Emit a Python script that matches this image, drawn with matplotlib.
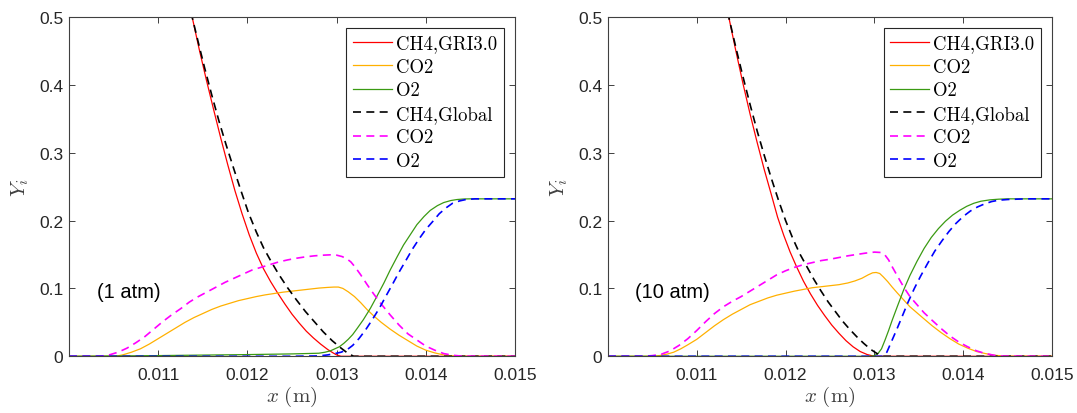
"""Species mass fractions across the flame, GRI3.0 vs global mechanism."""

import matplotlib

matplotlib.use("Agg")
import matplotlib.pyplot as plt

# ---- axes ticks -------------------------------------------------------------
x_ticks = [0.011, 0.012, 0.013, 0.014, 0.015]
x_tick_labels = ["0.011", "0.012", "0.013", "0.014", "0.015"]
y_ticks = [0.0, 0.1, 0.2, 0.3, 0.4, 0.5]
y_tick_labels = ["0", "0.1", "0.2", "0.3", "0.4", "0.5"]

legend_labels = ["CH4,GRI3.0", "CO2", "O2", "CH4,Global", "CO2", "O2"]
pressure_notes = ["(1 atm)", "(10 atm)"]

# ---- 1 atm ------------------------------------------------------------------
x_ch4_gri_1 = [0.01128, 0.01138, 0.01146, 0.01154, 0.01162, 0.01170, 0.01178, 0.01186,
               0.01194, 0.01202, 0.01210, 0.01218, 0.01226, 0.01234, 0.01242, 0.01250,
               0.01258, 0.01266, 0.01274, 0.01282, 0.01290, 0.01296, 0.01300, 0.01305,
               0.01500]
y_ch4_gri_1 = [0.560, 0.500, 0.452, 0.407, 0.364, 0.322, 0.282, 0.244,
               0.210, 0.179, 0.152, 0.129, 0.110, 0.093, 0.077, 0.062,
               0.049, 0.037, 0.027, 0.018, 0.010, 0.005, 0.002, 0.0,
               0.0]

x_co2_gri_1 = [0.01000, 0.01052, 0.01060, 0.01070, 0.01080, 0.01090, 0.01100, 0.01110,
               0.01120, 0.01130, 0.01140, 0.01150, 0.01160, 0.01170, 0.01180, 0.01190,
               0.01200, 0.01210, 0.01220, 0.01230, 0.01240, 0.01250, 0.01260, 0.01270,
               0.01280, 0.01290, 0.01297, 0.01302, 0.01307, 0.01313, 0.01320, 0.01327,
               0.01334, 0.01342, 0.01350, 0.01360, 0.01370, 0.01380, 0.01390, 0.01400,
               0.01410, 0.01420, 0.01430, 0.01440, 0.01500]
y_co2_gri_1 = [0.0, 0.0, 0.002, 0.006, 0.011, 0.018, 0.026, 0.034,
               0.042, 0.050, 0.057, 0.063, 0.069, 0.074, 0.078, 0.082,
               0.085, 0.088, 0.0905, 0.0925, 0.0945, 0.096, 0.0975, 0.099,
               0.1005, 0.1015, 0.102, 0.102, 0.100, 0.095, 0.088, 0.079,
               0.069, 0.059, 0.050, 0.040, 0.031, 0.023, 0.015, 0.009,
               0.005, 0.002, 0.0005, 0.0, 0.0]

x_o2_gri_1 = [0.01000, 0.01100, 0.01200, 0.01250, 0.01280, 0.01287, 0.01293, 0.01298,
              0.01303, 0.01308, 0.01313, 0.01318, 0.01323, 0.01330, 0.01338, 0.01345,
              0.01353, 0.01360, 0.01368, 0.01375, 0.01383, 0.01390, 0.01398, 0.01405,
              0.01413, 0.01420, 0.01428, 0.01435, 0.01443, 0.01450, 0.01500]
y_o2_gri_1 = [0.0, 0.001, 0.0025, 0.0035, 0.0045, 0.006, 0.008, 0.011,
              0.014, 0.019, 0.025, 0.032, 0.041, 0.054, 0.071, 0.088,
              0.108, 0.127, 0.147, 0.164, 0.180, 0.194, 0.206, 0.215,
              0.222, 0.2265, 0.2295, 0.231, 0.2318, 0.232, 0.232]

x_ch4_glob_1 = [0.01128, 0.01138, 0.01145, 0.01152, 0.01160, 0.01168, 0.01176, 0.01185,
                0.01193, 0.01201, 0.01210, 0.01218, 0.01226, 0.01235, 0.01245, 0.01255,
                0.01265, 0.01275, 0.01285, 0.01295, 0.01305, 0.01312, 0.01319, 0.01500]
y_ch4_glob_1 = [0.560, 0.500, 0.462, 0.425, 0.385, 0.347, 0.312, 0.275,
                0.243, 0.212, 0.183, 0.160, 0.141, 0.121, 0.101, 0.083,
                0.066, 0.051, 0.036, 0.023, 0.012, 0.005, 0.000, 0.000]

x_co2_glob_1 = [0.01000, 0.01035, 0.01045, 0.01055, 0.01065, 0.01075, 0.01085, 0.01095,
                0.01105, 0.01115, 0.01125, 0.01135, 0.01145, 0.01155, 0.01165, 0.01175,
                0.01185, 0.01195, 0.01205, 0.01215, 0.01225, 0.01235, 0.01245, 0.01255,
                0.01265, 0.01275, 0.01285, 0.01293, 0.01300, 0.01306, 0.01311, 0.01316,
                0.01321, 0.01327, 0.01334, 0.01342, 0.01350, 0.01360, 0.01370, 0.01380,
                0.01390, 0.01400, 0.01410, 0.01420, 0.01430, 0.01440, 0.01500]
y_co2_glob_1 = [0.0, 0.0, 0.002, 0.006, 0.012, 0.020, 0.029, 0.040,
                0.051, 0.061, 0.070, 0.080, 0.088, 0.095, 0.102, 0.109,
                0.115, 0.121, 0.127, 0.131, 0.135, 0.139, 0.142, 0.1445,
                0.1465, 0.148, 0.149, 0.1495, 0.149, 0.147, 0.144, 0.139,
                0.131, 0.120, 0.106, 0.091, 0.077, 0.061, 0.046, 0.033,
                0.024, 0.015, 0.009, 0.004, 0.0015, 0.0003, 0.0]

x_o2_glob_1 = [0.01000, 0.01250, 0.01280, 0.01290, 0.01298, 0.01305, 0.01312, 0.01318,
               0.01325, 0.01332, 0.01340, 0.01348, 0.01355, 0.01363, 0.01370, 0.01378,
               0.01385, 0.01393, 0.01400, 0.01408, 0.01415, 0.01423, 0.01430, 0.01438,
               0.01445, 0.01455, 0.01500]
y_o2_glob_1 = [0.0, 0.0, 0.0005, 0.002, 0.004, 0.006, 0.010, 0.016,
               0.026, 0.038, 0.054, 0.071, 0.088, 0.107, 0.124, 0.142,
               0.158, 0.174, 0.187, 0.199, 0.210, 0.219, 0.2255, 0.229,
               0.231, 0.232, 0.232]

# ---- 10 atm -----------------------------------------------------------------
x_ch4_gri_10 = [0.01126, 0.01136, 0.01144, 0.01152, 0.01160, 0.01168, 0.01176, 0.01184,
                0.01191, 0.01198, 0.01205, 0.01212, 0.01220, 0.01228, 0.01236, 0.01244,
                0.01252, 0.01260, 0.01268, 0.01276, 0.01284, 0.01292, 0.01300, 0.01500]
y_ch4_gri_10 = [0.560, 0.500, 0.450, 0.402, 0.357, 0.315, 0.275, 0.238,
                0.205, 0.178, 0.154, 0.133, 0.111, 0.092, 0.075, 0.060,
                0.046, 0.034, 0.023, 0.014, 0.007, 0.0025, 0.0, 0.0]

x_co2_gri_10 = [0.01000, 0.01050, 0.01058, 0.01066, 0.01074, 0.01082, 0.01090, 0.01100,
                0.01110, 0.01120, 0.01130, 0.01140, 0.01150, 0.01160, 0.01170, 0.01180,
                0.01190, 0.01200, 0.01210, 0.01220, 0.01230, 0.01240, 0.01250, 0.01260,
                0.01270, 0.01278, 0.01286, 0.01293, 0.01298, 0.01302, 0.01306, 0.01310,
                0.01315, 0.01320, 0.01326, 0.01333, 0.01340, 0.01348, 0.01356, 0.01365,
                0.01375, 0.01385, 0.01395, 0.01405, 0.01415, 0.01425, 0.01435, 0.01445,
                0.01455, 0.01500]
y_co2_gri_10 = [0.0, 0.0, 0.001, 0.003, 0.006, 0.011, 0.017, 0.025,
                0.035, 0.045, 0.054, 0.062, 0.069, 0.076, 0.081, 0.086,
                0.090, 0.093, 0.096, 0.0985, 0.101, 0.1025, 0.104, 0.1055,
                0.108, 0.111, 0.115, 0.120, 0.123, 0.1235, 0.122, 0.117,
                0.110, 0.102, 0.093, 0.083, 0.073, 0.064, 0.055, 0.045,
                0.035, 0.026, 0.018, 0.012, 0.007, 0.004, 0.0015, 0.0005,
                0.0, 0.0]

x_o2_gri_10 = [0.01000, 0.01296, 0.01300, 0.01304, 0.01308, 0.01312, 0.01316, 0.01320,
               0.01326, 0.01333, 0.01340, 0.01348, 0.01356, 0.01364, 0.01372, 0.01380,
               0.01388, 0.01396, 0.01404, 0.01412, 0.01420, 0.01430, 0.01440, 0.01450,
               0.01500]
y_o2_gri_10 = [0.0, 0.0, 0.001, 0.004, 0.011, 0.024, 0.038, 0.053,
               0.074, 0.098, 0.119, 0.140, 0.159, 0.175, 0.188, 0.199,
               0.208, 0.215, 0.221, 0.2255, 0.2285, 0.2305, 0.2315, 0.232,
               0.232]

x_ch4_glob_10 = [0.01126, 0.01136, 0.01144, 0.01152, 0.01160, 0.01168, 0.01176, 0.01184,
                 0.01192, 0.01200, 0.01208, 0.01216, 0.01224, 0.01232, 0.01240, 0.01248,
                 0.01256, 0.01264, 0.01272, 0.01280, 0.01288, 0.01296, 0.01303, 0.01310,
                 0.01500]
y_ch4_glob_10 = [0.560, 0.500, 0.455, 0.412, 0.371, 0.332, 0.296, 0.262,
                 0.230, 0.200, 0.174, 0.151, 0.132, 0.113, 0.096, 0.080,
                 0.066, 0.052, 0.040, 0.029, 0.019, 0.010, 0.004, 0.0,
                 0.0]

x_co2_glob_10 = [0.01000, 0.01040, 0.01050, 0.01060, 0.01070, 0.01080, 0.01090, 0.01100,
                 0.01110, 0.01120, 0.01130, 0.01140, 0.01150, 0.01160, 0.01170, 0.01180,
                 0.01190, 0.01200, 0.01210, 0.01220, 0.01230, 0.01240, 0.01250, 0.01260,
                 0.01270, 0.01280, 0.01290, 0.01300, 0.01307, 0.01312, 0.01316, 0.01320,
                 0.01326, 0.01333, 0.01340, 0.01348, 0.01356, 0.01365, 0.01375, 0.01385,
                 0.01395, 0.01405, 0.01415, 0.01425, 0.01435, 0.01445, 0.01500]
y_co2_glob_10 = [0.0, 0.0, 0.001, 0.003, 0.008, 0.016, 0.026, 0.038,
                 0.051, 0.063, 0.073, 0.081, 0.088, 0.096, 0.104, 0.112,
                 0.120, 0.126, 0.131, 0.135, 0.138, 0.141, 0.143, 0.1455,
                 0.148, 0.150, 0.152, 0.1535, 0.153, 0.149, 0.142, 0.132,
                 0.118, 0.102, 0.088, 0.076, 0.064, 0.053, 0.041, 0.030,
                 0.021, 0.014, 0.008, 0.004, 0.0015, 0.0003, 0.0]

x_o2_glob_10 = [0.01000, 0.01310, 0.01314, 0.01319, 0.01325, 0.01332, 0.01338, 0.01345,
                0.01352, 0.01360, 0.01368, 0.01376, 0.01384, 0.01392, 0.01400, 0.01408,
                0.01416, 0.01424, 0.01432, 0.01440, 0.01450, 0.01460, 0.01470, 0.01500]
y_o2_glob_10 = [0.0, 0.0, 0.006, 0.021, 0.039, 0.061, 0.080, 0.100,
                0.118, 0.137, 0.155, 0.170, 0.184, 0.196, 0.206, 0.214,
                0.220, 0.2245, 0.228, 0.230, 0.231, 0.2315, 0.232, 0.232]

panel_1atm = [(x_ch4_gri_1, y_ch4_gri_1), (x_co2_gri_1, y_co2_gri_1), (x_o2_gri_1, y_o2_gri_1),
              (x_ch4_glob_1, y_ch4_glob_1), (x_co2_glob_1, y_co2_glob_1),
              (x_o2_glob_1, y_o2_glob_1)]
panel_10atm = [(x_ch4_gri_10, y_ch4_gri_10), (x_co2_gri_10, y_co2_gri_10),
               (x_o2_gri_10, y_o2_gri_10), (x_ch4_glob_10, y_ch4_glob_10),
               (x_co2_glob_10, y_co2_glob_10), (x_o2_glob_10, y_o2_glob_10)]

# line styles, same order as legend_labels
colors = ["#ff0000", "#ffb000", "#3a9a12", "#000000", "#ff00ff", "#0000ff"]
dashed = [False, False, False, True, True, True]

AX_COLOR = "#404040"

plt.rcParams["mathtext.fontset"] = "cm"
plt.rcParams["font.family"] = ["Liberation Sans", "DejaVu Sans"]


def draw_panel(ax, series, note, legend_x):
    """Draw one pressure case."""
    for (xs, ys), label, color, is_dashed in zip(series, legend_labels, colors, dashed):
        if is_dashed:
            ax.plot(xs, ys, color=color, lw=1.2, dashes=(4.8, 3.2), label=label)
        else:
            ax.plot(xs, ys, color=color, lw=0.9, label=label)

    ax.set_xlim(0.010, 0.015)
    ax.set_ylim(0.0, 0.5)
    ax.set_xticks(x_ticks)
    ax.set_xticklabels(x_tick_labels)
    ax.set_yticks(y_ticks)
    ax.set_yticklabels(y_tick_labels)
    ax.tick_params(direction="in", length=4, width=0.7, color=AX_COLOR,
                   labelsize=12.5, labelcolor="#262626", top=True, right=True)
    ax.tick_params(axis="x", pad=8)
    ax.tick_params(axis="y", pad=4)
    for spine in ax.spines.values():
        spine.set_color(AX_COLOR)
        spine.set_linewidth(0.8)

    ax.set_xlabel(r"$x\ (\mathrm{m})$", fontsize=15, color="#404040", labelpad=1)
    ax.set_ylabel(r"$Y_i$", fontsize=15, color="#404040", labelpad=6)

    ax.text(0.01031, 0.096, note, fontsize=14.5, va="center", ha="left")

    leg = ax.legend(loc="upper right", bbox_to_anchor=(legend_x, 0.968),
                    borderaxespad=0, fancybox=False, framealpha=1,
                    edgecolor="#262626", prop={"family": "cmr10", "size": 13.5},
                    handlelength=2.1, handletextpad=0.2, labelspacing=0.3,
                    borderpad=0.35)
    leg.get_frame().set_linewidth(0.8)


fig = plt.figure(figsize=(10.77, 4.14), dpi=100)
ax_left = fig.add_axes([0.0641, 0.137, 0.4141, 0.8196])
ax_right = fig.add_axes([0.5645, 0.137, 0.4123, 0.8196])

draw_panel(ax_left, panel_1atm, pressure_notes[0], 0.975)
draw_panel(ax_right, panel_10atm, pressure_notes[1], 0.975)

fig.savefig("out.png", dpi=100)
